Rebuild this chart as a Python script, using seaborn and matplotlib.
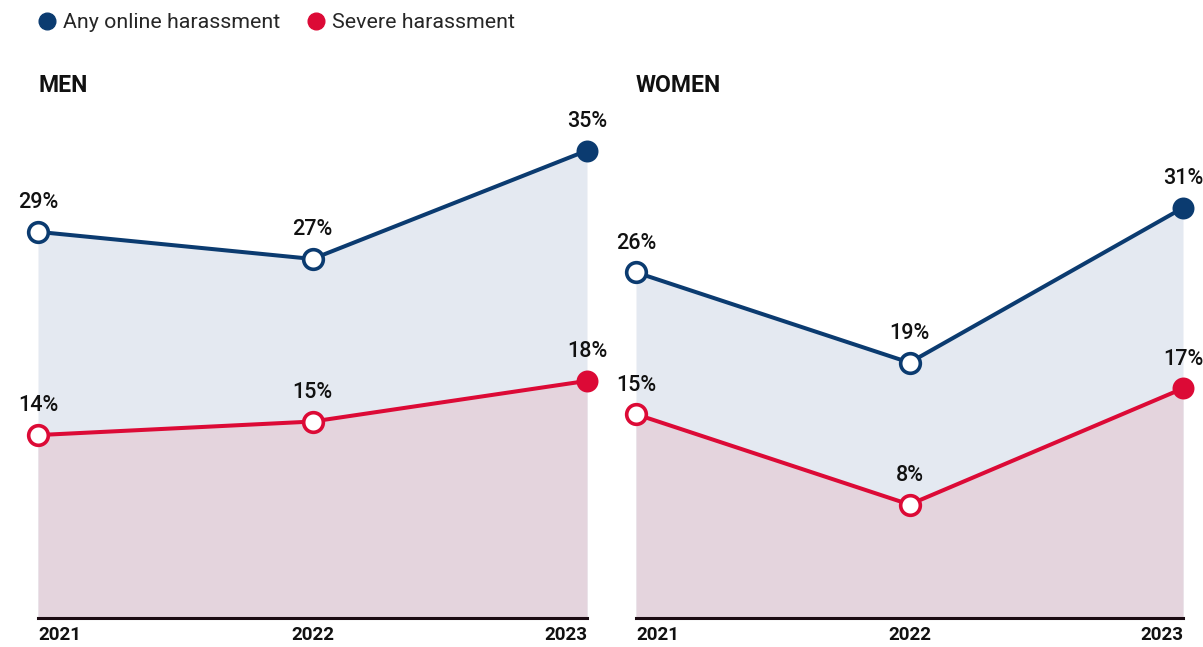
import matplotlib
matplotlib.use("Agg")
import matplotlib.pyplot as plt
from matplotlib.lines import Line2D
import seaborn as sns
import pandas as pd

years = [2021, 2022, 2023]
men_any = [29, 27, 35]
men_severe = [14, 15, 18]
women_any = [26, 19, 31]
women_severe = [15, 8, 17]

series_names = ["Any online harassment", "Severe harassment"]
line_colors = ["#0b3b70", "#dc0a36"]
fill_colors = ["#e4e9f1", "#e4d4dd"]
panels = [("MEN", men_any, men_severe), ("WOMEN", women_any, women_severe)]

sns.set_theme(style="white")
plt.rcParams["font.family"] = ["Roboto", "DejaVu Sans"]

W, H = 1203, 647
fig = plt.figure(figsize=(W / 100, H / 100), dpi=100)

axes_px = [(38, 549), (636, 547)]
y_limits = [(0.5, 39.1), (-0.8, 39.75)]
top_px, base_px = 95, 618

for (title, any_vals, sev_vals), (x0, w), (y0, y1) in zip(panels, axes_px, y_limits):
    ax = fig.add_axes([x0 / W, (H - base_px) / H, w / W, (base_px - top_px) / H])
    df = pd.DataFrame({
        "year": years * 2,
        "value": any_vals + sev_vals,
        "series": [series_names[0]] * 3 + [series_names[1]] * 3,
    })
    ax.fill_between(years, y0, any_vals, color=fill_colors[0], lw=0, zorder=1)
    ax.fill_between(years, y0, sev_vals, color=fill_colors[1], lw=0, zorder=2)
    sns.lineplot(data=df, x="year", y="value", hue="series",
                 palette=line_colors, linewidth=2.9, legend=False, ax=ax,
                 zorder=3)
    for line in ax.get_lines():
        line.set_clip_on(False)
    for vals, col in zip([any_vals, sev_vals], line_colors):
        ax.scatter(years[:2], vals[:2], s=200, facecolor="white",
                   edgecolor=col, linewidth=2.6, zorder=5, clip_on=False)
        ax.scatter(years[2:], vals[2:], s=250, facecolor=col,
                   edgecolor=col, linewidth=0, zorder=5, clip_on=False)
        for x, v in zip(years, vals):
            ax.annotate(f"{v}%", (x, v), xytext=(0, 21),
                        textcoords="offset points", ha="center", va="center",
                        fontsize=15.5, fontweight="medium", color="#111111",
                        zorder=6)
    ax.set_xlim(2021, 2023)
    ax.set_ylim(y0, y1)
    ax.set_yticks([])
    ax.set_xticks(years)
    ax.set_xticklabels([str(y) for y in years], fontsize=13.5,
                       fontweight="bold", color="#111111")
    for lab, ha in zip(ax.get_xticklabels(), ["left", "center", "right"]):
        lab.set_horizontalalignment(ha)
    ax.tick_params(axis="x", length=0, pad=6)
    ax.set_xlabel("")
    ax.set_ylabel("")
    for s in ["top", "left", "right"]:
        ax.spines[s].set_visible(False)
    ax.spines["bottom"].set_color("#1b0b12")
    ax.spines["bottom"].set_linewidth(2.2)
    ax.spines["bottom"].set_zorder(7)
    ax.set_facecolor("none")
    fig.text(x0 / W, 1 - 85 / H, title, fontsize=16.5, fontweight="bold",
             color="#111111", va="center", ha="left")

handles = [Line2D([], [], marker="o", linestyle="none", markersize=12,
                  markerfacecolor=c, markeredgecolor=c) for c in line_colors]
fig.legend(handles, series_names, loc="center left",
           bbox_to_anchor=(36 / W, 1 - 23 / H), ncol=2, frameon=False,
           fontsize=15.4, handletextpad=0.25, columnspacing=1.2,
           handlelength=1.0, borderaxespad=0, borderpad=0)

fig.savefig("out.png", dpi=100)
